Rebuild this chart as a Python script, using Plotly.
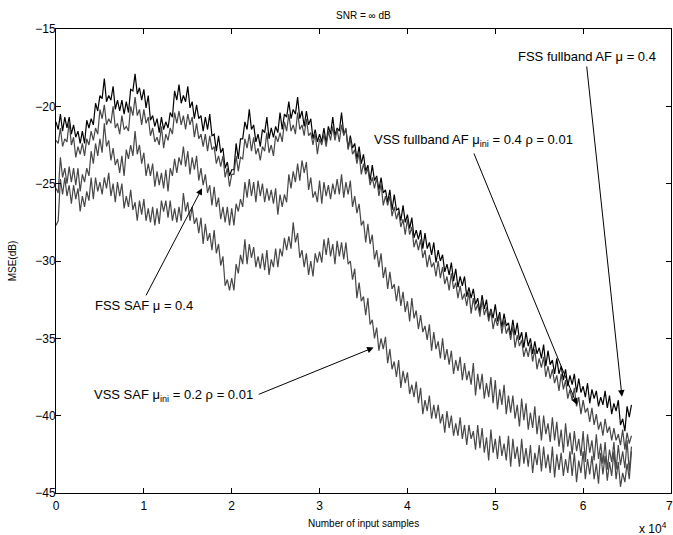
import plotly.graph_objects as go

# x positions (number of input samples), one reading every 250 samples
x_samples = list(range(0, 65501, 250))

# MSE (dB) (noisy traces)
mse_fss_fullband = [
    -21.0, -21.5, -20.5, -21.6, -20.7, -21.4, -20.7, -21.8, -21.2, -22.0,
    -21.6, -22.4, -21.6, -22.4, -20.9, -21.4, -20.8, -21.2, -19.8, -20.3,
    -19.3, -19.5, -18.2, -19.7, -19.3, -19.6, -18.7, -20.2, -19.6, -20.3,
    -19.6, -20.5, -19.7, -20.4, -18.9, -19.0, -17.9, -19.2, -18.8, -19.6,
    -18.9, -20.1, -19.3, -20.9, -20.6, -21.3, -20.8, -21.7, -20.7, -21.5,
    -21.0, -21.4, -20.4, -20.7, -19.0, -19.6, -18.6, -19.8, -19.3, -19.7,
    -18.7, -20.1, -19.7, -20.8, -19.9, -20.8, -20.6, -21.6, -20.7, -21.5,
    -20.5, -21.9, -21.8, -22.9, -21.9, -23.0, -22.7, -24.0, -23.6, -24.5,
    -24.1, -24.1, -22.4, -23.4, -22.1, -22.1, -21.0, -21.5, -20.2, -21.5,
    -21.2, -22.3, -21.8, -22.6, -21.5, -21.7, -20.7, -22.1, -21.4, -22.0,
    -21.3, -21.7, -20.4, -21.5, -20.5, -20.7, -19.7, -20.8, -20.2, -20.5,
    -19.4, -20.8, -20.3, -21.3, -20.3, -21.2, -20.8, -22.1, -21.5, -22.3,
    -21.8, -22.3, -21.4, -22.4, -21.3, -21.8, -20.7, -21.9, -21.4, -21.6,
    -20.4, -21.8, -21.5, -22.7, -21.9, -22.7, -22.4, -23.4, -22.6, -23.7,
    -23.1, -24.2, -23.8, -24.8, -23.8, -24.8, -24.5, -25.4, -24.6, -25.6,
    -25.4, -26.2, -25.4, -26.7, -25.7, -26.7, -26.6, -27.4, -26.4, -27.5,
    -27.0, -27.9, -27.2, -28.5, -28.0, -28.6, -28.0, -29.2, -28.2, -29.2,
    -28.8, -29.6, -28.8, -30.1, -29.3, -30.0, -29.6, -30.7, -30.2, -30.9,
    -30.1, -31.3, -30.5, -31.7, -31.0, -31.6, -31.0, -32.3, -31.7, -32.4,
    -31.8, -32.8, -32.4, -33.3, -32.2, -33.1, -32.5, -33.7, -33.1, -33.7,
    -32.8, -33.9, -33.3, -34.3, -33.4, -34.2, -34.0, -34.8, -33.8, -34.8,
    -34.0, -35.1, -34.6, -35.6, -34.6, -35.5, -35.0, -36.0, -35.2, -36.0,
    -35.6, -36.3, -35.4, -36.8, -35.8, -36.7, -36.4, -37.3, -36.3, -37.3,
    -36.8, -37.7, -37.0, -38.1, -37.4, -38.0, -37.3, -38.5, -37.6, -38.5,
    -38.1, -38.8, -37.9, -39.2, -38.3, -38.9, -38.4, -39.4, -38.8, -39.3,
    -38.4, -39.5, -38.7, -39.9, -39.2, -39.7, -39.0, -40.6, -40.2, -41.0,
    -39.4, -40.1, -39.3,
]

mse_vss_fullband = [
    -22.2, -22.4, -21.4, -22.6, -22.1, -22.3, -21.0, -22.5, -22.0, -23.3,
    -22.6, -23.1, -22.4, -23.2, -22.1, -22.5, -21.6, -22.2, -21.4, -21.8,
    -20.2, -20.8, -19.9, -21.2, -20.8, -21.1, -20.0, -21.4, -21.1, -21.8,
    -20.6, -21.5, -21.3, -21.6, -20.0, -20.6, -19.4, -20.6, -20.2, -21.2,
    -20.2, -21.1, -20.7, -21.9, -21.4, -22.3, -22.0, -22.5, -21.3, -22.7,
    -21.8, -22.2, -21.4, -21.8, -20.4, -21.1, -20.3, -21.2, -20.6, -21.5,
    -20.5, -21.2, -20.7, -22.0, -21.1, -22.1, -21.8, -22.6, -21.8, -22.9,
    -21.9, -22.8, -22.6, -23.7, -23.2, -23.9, -23.2, -24.6, -24.0, -25.2,
    -24.4, -24.4, -23.2, -24.2, -23.3, -23.4, -22.1, -22.7, -21.8, -22.9,
    -22.0, -23.1, -22.7, -23.5, -22.6, -22.9, -21.7, -23.0, -22.5, -23.2,
    -21.9, -22.3, -21.7, -22.3, -21.0, -21.6, -20.5, -21.6, -21.2, -21.8,
    -20.4, -21.5, -21.2, -21.9, -20.8, -21.9, -21.7, -22.5, -21.7, -23.1,
    -22.1, -22.5, -21.8, -22.6, -21.6, -22.2, -21.3, -22.2, -21.5, -22.3,
    -21.2, -21.9, -21.4, -22.8, -22.1, -23.1, -22.8, -23.7, -23.0, -24.4,
    -23.7, -24.4, -24.0, -25.1, -24.6, -25.3, -24.6, -25.8, -25.0, -26.4,
    -25.8, -26.4, -25.8, -27.1, -26.5, -27.3, -26.8, -27.8, -27.3, -28.3,
    -27.3, -28.3, -27.8, -29.1, -28.6, -29.3, -28.6, -29.8, -29.3, -30.4,
    -29.6, -30.4, -30.1, -31.0, -30.0, -31.1, -30.4, -31.5, -31.0, -31.9,
    -30.8, -31.8, -31.4, -32.4, -31.6, -32.5, -32.1, -32.9, -32.0, -33.4,
    -32.4, -33.2, -32.8, -33.6, -32.5, -33.5, -33.0, -33.9, -33.2, -34.4,
    -33.7, -34.2, -33.5, -34.7, -33.8, -34.7, -34.3, -35.1, -34.2, -35.6,
    -34.8, -35.5, -35.1, -36.2, -35.6, -36.2, -35.4, -36.5, -35.7, -37.0,
    -36.3, -36.9, -36.2, -37.5, -36.8, -37.6, -37.0, -37.9, -37.4, -38.4,
    -37.3, -38.3, -37.7, -38.9, -38.3, -39.0, -38.2, -39.4, -38.8, -39.9,
    -39.0, -39.8, -39.5, -40.4, -39.5, -40.6, -39.9, -40.9, -40.4, -41.3,
    -40.2, -41.1, -40.7, -41.6, -40.8, -41.6, -41.2, -41.9, -40.9, -42.2,
    -41.1, -41.8, -41.3,
]

mse_fss_saf = [
    -25.3, -25.6, -23.3, -24.6, -24.0, -25.0, -23.9, -24.9, -24.0, -25.1,
    -24.0, -25.5, -24.4, -24.9, -24.0, -24.5, -22.9, -23.7, -22.4, -23.2,
    -22.1, -23.0, -21.1, -22.6, -22.2, -23.5, -22.7, -23.8, -23.4, -24.3,
    -23.2, -24.5, -22.8, -23.4, -22.5, -23.2, -21.6, -23.1, -22.5, -23.7,
    -23.0, -24.5, -23.7, -24.5, -23.7, -25.2, -24.2, -25.1, -24.3, -25.3,
    -24.1, -25.5, -24.0, -24.5, -23.4, -24.3, -23.3, -23.8, -22.6, -23.9,
    -22.9, -24.4, -23.3, -24.1, -23.2, -24.8, -24.0, -25.1, -24.4, -25.6,
    -25.1, -26.4, -25.2, -26.5, -25.9, -27.3, -26.5, -27.5, -26.5, -27.7,
    -26.6, -27.7, -26.3, -26.8, -26.0, -26.5, -24.9, -25.9, -24.7, -25.8,
    -24.9, -26.2, -24.8, -25.8, -25.0, -26.2, -25.3, -26.1, -25.4, -26.3,
    -25.3, -27.0, -25.7, -26.5, -25.7, -26.2, -24.4, -25.3, -24.2, -24.9,
    -23.7, -24.8, -23.5, -24.3, -23.6, -25.4, -24.6, -25.9, -25.5, -26.2,
    -24.8, -26.3, -24.9, -25.8, -25.1, -26.0, -25.0, -25.7, -24.7, -25.7,
    -24.4, -25.9, -24.9, -25.7, -24.8, -26.5, -25.8, -26.9, -26.3, -27.7,
    -27.4, -28.8, -27.6, -28.9, -28.3, -29.9, -29.3, -30.4, -29.5, -31.1,
    -30.4, -31.8, -30.7, -31.8, -31.5, -32.6, -31.6, -32.9, -32.0, -33.3,
    -32.6, -33.9, -32.4, -33.7, -33.2, -34.4, -33.5, -34.6, -34.2, -35.1,
    -34.1, -35.8, -34.6, -35.7, -35.2, -36.3, -35.0, -36.4, -35.7, -36.7,
    -35.8, -37.3, -36.4, -37.1, -36.2, -37.7, -36.6, -37.7, -37.1, -38.0,
    -36.6, -38.7, -37.3, -38.3, -37.3, -38.9, -37.9, -38.8, -37.5, -39.2,
    -37.7, -39.6, -38.3, -39.3, -38.0, -39.9, -38.7, -39.8, -38.7, -40.2,
    -39.3, -40.7, -38.9, -40.3, -39.2, -40.9, -39.8, -40.8, -39.4, -41.2,
    -40.0, -41.6, -40.0, -41.2, -40.5, -41.7, -40.1, -41.6, -40.4, -42.0,
    -40.9, -42.4, -40.5, -42.0, -41.1, -42.5, -41.0, -42.3, -41.5, -42.6,
    -41.0, -43.0, -41.2, -42.4, -41.6, -42.9, -41.2, -42.8, -41.8, -43.1,
    -41.7, -43.5, -42.2, -43.0, -41.7, -43.5, -41.9, -43.2, -42.3, -43.4,
    -41.6, -43.6, -42.0,
]

mse_vss_saf = [
    -27.7, -27.4, -24.7, -25.7, -24.6, -25.8, -25.1, -26.3, -25.1, -26.0,
    -25.3, -26.8, -25.8, -26.5, -25.5, -26.1, -24.6, -26.0, -24.6, -25.5,
    -24.9, -25.7, -24.6, -25.3, -24.3, -25.8, -25.0, -26.2, -24.9, -25.8,
    -25.0, -26.6, -25.8, -26.5, -25.4, -26.7, -26.2, -27.4, -26.1, -27.0,
    -26.0, -27.4, -26.6, -27.5, -26.5, -27.7, -26.6, -27.6, -26.1, -26.8,
    -26.1, -27.2, -26.1, -27.4, -26.6, -27.5, -26.5, -27.4, -25.6, -26.8,
    -26.2, -27.4, -26.5, -27.6, -27.2, -28.2, -27.2, -28.9, -27.6, -28.7,
    -28.2, -29.3, -28.0, -29.5, -28.9, -30.3, -29.7, -31.6, -31.2, -31.9,
    -31.1, -31.9, -30.2, -30.8, -29.6, -30.2, -28.6, -30.2, -28.9, -29.8,
    -29.1, -30.4, -29.7, -30.5, -29.5, -30.6, -29.3, -30.9, -29.9, -30.4,
    -29.2, -30.4, -29.2, -29.7, -28.5, -29.3, -28.4, -29.2, -27.5, -28.8,
    -28.2, -29.8, -29.3, -30.4, -29.5, -30.9, -30.0, -31.0, -29.5, -30.1,
    -29.4, -30.1, -28.6, -29.6, -28.5, -29.7, -28.9, -30.2, -28.7, -29.7,
    -28.8, -29.9, -28.8, -30.2, -30.0, -31.2, -30.5, -32.4, -31.4, -32.6,
    -32.3, -33.5, -32.4, -34.1, -33.8, -35.0, -34.3, -35.8, -35.0, -35.7,
    -34.9, -36.6, -35.7, -37.0, -36.5, -37.5, -36.4, -38.2, -37.1, -37.9,
    -37.2, -38.6, -38.0, -38.8, -37.8, -39.2, -38.2, -39.9, -39.0, -39.7,
    -38.7, -40.2, -39.3, -40.2, -39.3, -40.5, -39.9, -41.1, -39.7, -40.8,
    -40.0, -41.3, -40.5, -41.3, -40.1, -41.5, -40.6, -41.9, -40.6, -41.5,
    -41.0, -42.2, -40.6, -42.1, -40.8, -42.4, -41.4, -42.9, -40.9, -42.4,
    -41.5, -42.8, -41.3, -42.6, -41.8, -42.9, -41.3, -43.3, -41.5, -42.8,
    -42.0, -43.3, -41.5, -43.1, -42.1, -43.3, -41.9, -43.7, -42.4, -43.2,
    -41.9, -43.6, -42.0, -43.4, -42.5, -43.7, -42.0, -44.0, -42.5, -43.5,
    -42.4, -43.9, -42.8, -43.7, -42.3, -43.9, -42.4, -44.3, -42.9, -43.7,
    -42.3, -44.1, -42.8, -43.8, -42.6, -44.1, -43.1, -44.4, -42.4, -43.8,
    -42.6, -44.2, -43.0, -43.9, -42.3, -44.1, -43.0, -44.6, -43.7, -44.3,
    -43.1, -44.1, -42.3,
]

series_names = ["FSS fullband AF", "VSS fullband AF", "FSS SAF", "VSS SAF"]
series_values = [mse_fss_fullband, mse_vss_fullband, mse_fss_saf, mse_vss_saf]
series_colors = ["#000000", "#474747", "#474747", "#474747"]

x_tick_vals = [0, 10000, 20000, 30000, 40000, 50000, 60000, 70000]
x_tick_text = ["0", "1", "2", "3", "4", "5", "6", "7"]
y_tick_vals = [-45, -40, -35, -30, -25, -20, -15]
y_tick_text = ["\u221245", "\u221240", "\u221235", "\u221230", "\u221225", "\u221220", "\u221215"]

# annotation labels: (text, text_x, text_y, tail_x, tail_y, tip_x, tip_y)
labels = [
    ("FSS fullband AF \u03bc = 0.4", 60400, -16.8, 60390, -17.33, 64420, -38.77),
    ("VSS fullband AF \u03bc<sub>ini</sub> = 0.4 \u03c1 = 0.01", 47550, -22.2, 47500, -22.95, 59300, -39.30),
    ("FSS SAF \u03bc = 0.4", 10050, -32.89, 10160, -32.32, 16620, -25.30),
    ("VSS SAF \u03bc<sub>ini</sub> = 0.2 \u03c1 = 0.01", 13350, -38.7, 22910, -38.66, 36150, -35.60),
]

FONT = "Liberation Sans, Arial, Helvetica, sans-serif"

fig = go.Figure()
for name, vals, col in zip(series_names, series_values, series_colors):
    fig.add_trace(go.Scatter(x=x_samples, y=vals, mode="lines", name=name,
                             line=dict(color=col, width=1.2), showlegend=False,
                             hoverinfo="skip"))

axis_common = dict(showline=True, linecolor="black", linewidth=1, mirror="ticks",
                   ticks="inside", ticklen=5, tickcolor="black", tickwidth=1,
                   showgrid=False, zeroline=False,
                   tickfont=dict(family=FONT, size=12, color="black"))

fig.update_layout(
    width=673, height=535,
    margin=dict(l=56, r=2, t=29, b=42),
    plot_bgcolor="white", paper_bgcolor="white",
    showlegend=False,
    font=dict(family=FONT, color="black"),
    xaxis=dict(range=[0, 70000], tickmode="array", tickvals=x_tick_vals,
               ticktext=x_tick_text, ticklabelstandoff=2, **axis_common),
    yaxis=dict(range=[-45, -15], tickmode="array", tickvals=y_tick_vals,
               ticktext=y_tick_text, ticklabelstandoff=-3, **axis_common),
)

annotations = []
for text, tx, ty, ax_, ay_, px_, py_ in labels:
    annotations.append(dict(x=px_, y=py_, xref="x", yref="y", ax=ax_, ay=ay_,
                            axref="x", ayref="y", text="", showarrow=True,
                            arrowhead=2, arrowsize=1.3, arrowwidth=1,
                            arrowcolor="black"))
    annotations.append(dict(x=tx, y=ty, xref="x", yref="y", text=text,
                            showarrow=False, xanchor="center", yanchor="middle",
                            font=dict(family=FONT, size=13, color="black")))

annotations += [
    dict(x=0.5, y=1.030, xref="paper", yref="paper", text="SNR = \u221e dB",
         xanchor="center", yanchor="middle",
         showarrow=False, font=dict(family=FONT, size=10, color="black")),
    dict(x=0.5, y=-0.0647, xref="paper", yref="paper", text="Number of input samples",
         xanchor="center", yanchor="middle",
         showarrow=False, font=dict(family=FONT, size=10, color="black")),
    dict(x=-0.071, y=0.5, xref="paper", yref="paper", text="MSE(dB)", textangle=-90,
         xanchor="center", yanchor="middle",
         showarrow=False, font=dict(family=FONT, size=10, color="black")),
    dict(x=0.970, y=-0.0754, xref="paper", yref="paper", text="x 10<sup>4</sup>",
         xanchor="center", yanchor="middle",
         showarrow=False, font=dict(family=FONT, size=12, color="black")),
    # last x tick label, which plotly hides at the page edge
    dict(x=0.9975, y=-0.027, xref="paper", yref="paper", text=x_tick_text[-1],
         xanchor="center", yanchor="middle", borderpad=0,
         showarrow=False, font=dict(family=FONT, size=12, color="black")),
]
fig.update_layout(annotations=annotations)

# remove the page's default 8px body margin and scrollbars; hide the modebar
fig.write_html(
    "out.html",
    config={"displayModeBar": False},
    post_script="document.body.style.margin='0';document.body.style.overflow='hidden';",
)
